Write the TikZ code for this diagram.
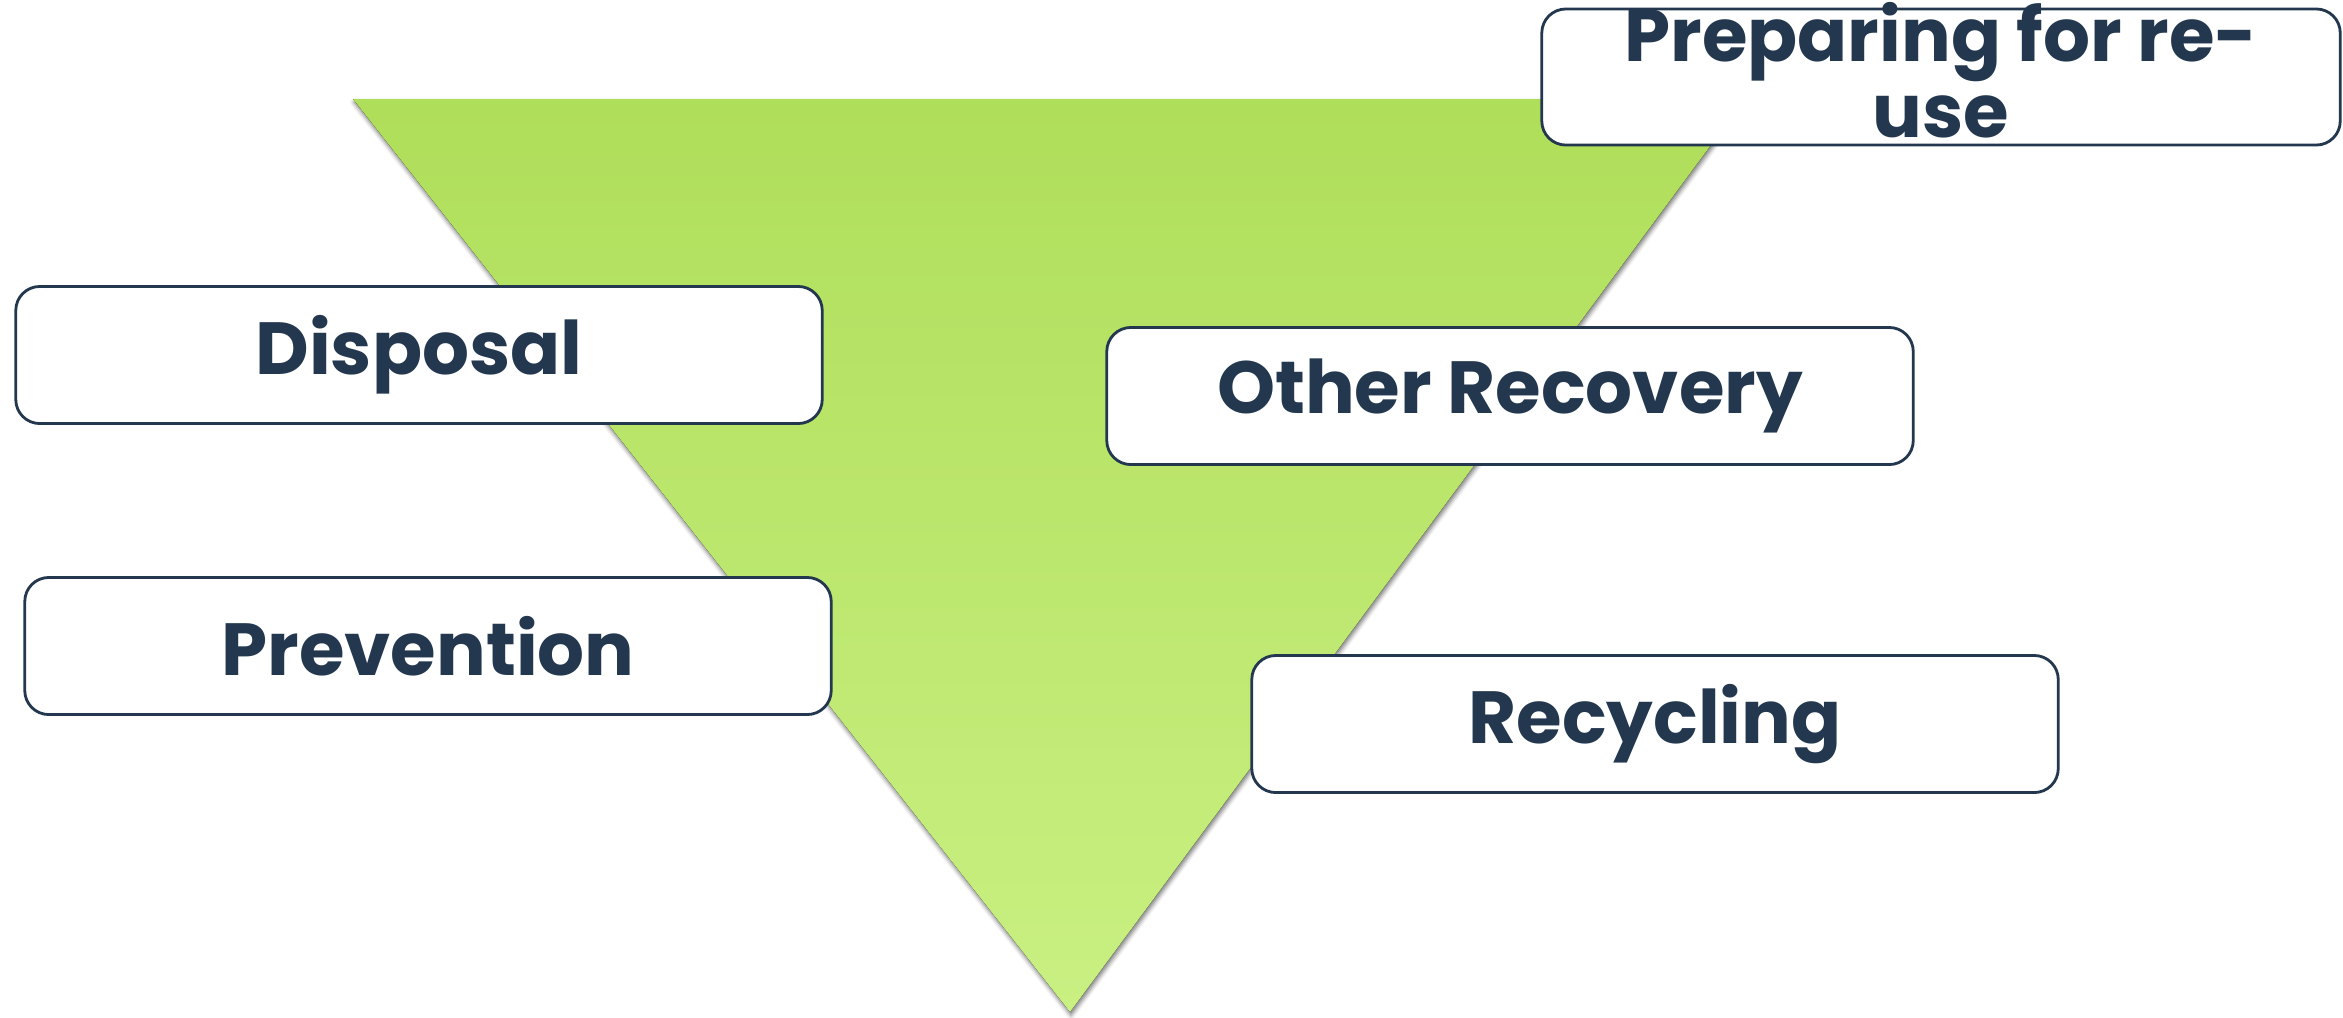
\documentclass[tikz,border=0pt]{standalone}
\usepackage{fontspec}
\setmainfont{Poppins}
\usetikzlibrary{shadows.blur}
\definecolor{navy}{RGB}{35,55,79}
\definecolor{gtop}{RGB}{175,222,90}
\definecolor{gbot}{RGB}{201,240,130}
\begin{document}
\begin{tikzpicture}[x=0.01cm,y=-0.01cm,
  labelbox/.style={draw=navy, line width=0.8pt, fill=white, rounded corners=0.24cm,
    minimum width=8.06cm, minimum height=1.37cm, inner sep=0pt},
  labeltext/.style={text=navy, font=\fontsize{21}{21.5}\selectfont\bfseries, align=center, inner sep=0pt}
]
\useasboundingbox (0,0) rectangle (2343,1017);
\coordinate (tl) at (353,99);
\coordinate (tr) at (1745,99);
\coordinate (ap) at (1070,1012);
\fill[top color=gtop, bottom color=gbot,
  blur shadow={shadow xshift=0.3pt, shadow yshift=-0.9pt, shadow blur radius=1.2pt, shadow opacity=55}]
  (tl) -- (tr) -- (ap) -- cycle;

\node[labelbox, labeltext] (disposal) at (419,355) {Disposal};
\node[labelbox, labeltext] (prevention) at (428,646) {Prevention};
\node[labelbox, labeltext] (other) at (1510,396) {Other Recovery};
\node[labelbox, labeltext] (recycling) at (1655,724) {Recycling};
\node[labelbox, minimum width=7.98cm, minimum height=1.36cm] (preparing) at (1941,77) {};
\node[labeltext, yshift=0.07cm] (preptext) at (preparing.center) {Preparing for re-\\use};
\end{tikzpicture}
\end{document}
